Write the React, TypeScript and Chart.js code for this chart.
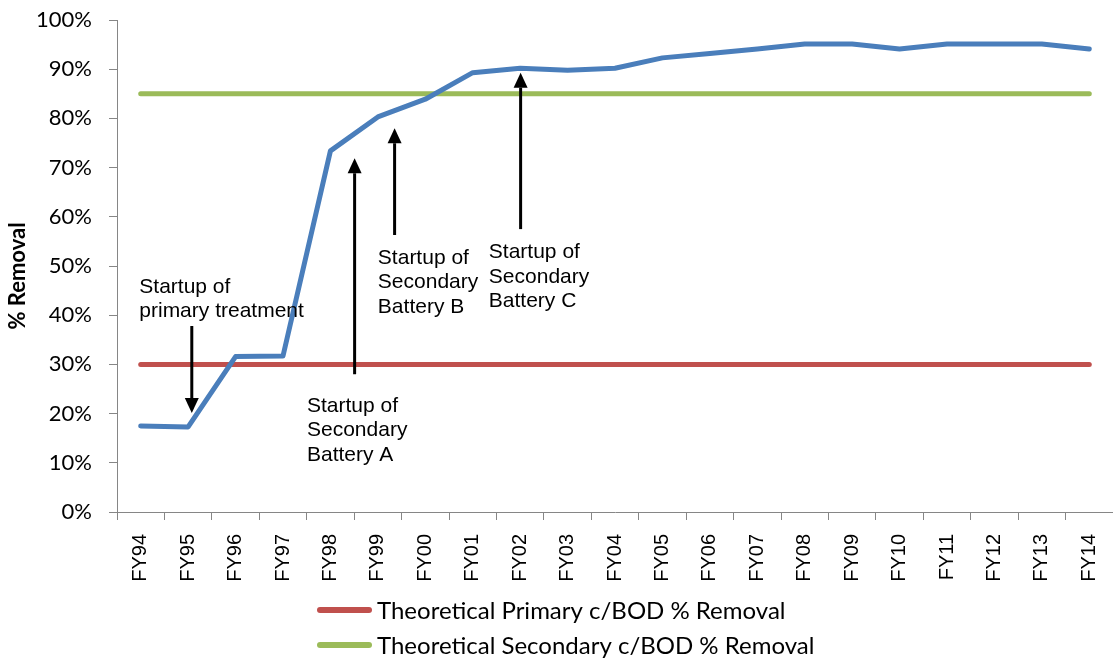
import React, { useEffect, useRef } from "react";
import { Chart, registerables } from "chart.js";

Chart.register(...registerables);

const categories = [
  "FY94", "FY95", "FY96", "FY97", "FY98", "FY99", "FY00", "FY01", "FY02", "FY03", "FY04",
  "FY05", "FY06", "FY07", "FY08", "FY09", "FY10", "FY11", "FY12", "FY13", "FY14",
];
const removalPct = [
  17.5, 17.3, 31.6, 31.7, 73.4, 80.3, 83.9, 89.3, 90.2, 89.8, 90.2,
  92.3, 93.2, 94.1, 95.1, 95.1, 94.1, 95.1, 95.1, 95.1, 94.1,
];
const primaryTarget = [
  30, 30, 30, 30, 30, 30, 30, 30, 30, 30, 30,
  30, 30, 30, 30, 30, 30, 30, 30, 30, 30,
];
const secondaryTarget = [
  85, 85, 85, 85, 85, 85, 85, 85, 85, 85, 85,
  85, 85, 85, 85, 85, 85, 85, 85, 85, 85,
];
const seriesNames = [
  "% Removal",
  "Theoretical Primary c/BOD % Removal",
  "Theoretical Secondary c/BOD % Removal",
];
const yAxisTitle = "% Removal";

// Annotations (category index, % value)
const noteTexts = [
  ["Startup of", "primary treatment"],
  ["Startup of", "Secondary", "Battery A"],
  ["Startup of", "Secondary", "Battery B"],
  ["Startup of", "Secondary", "Battery C"],
];
const noteTextIndex = [-0.03, 3.506, 5.0, 7.34];
const noteTextValue = [44.6, 20.4, 50.5, 51.6];
const arrowIndex = [1.077, 4.51, 5.353, 8.01];
const arrowFrom = [37.8, 28.0, 56.3, 57.5];
const arrowTo = [20.1, 71.9, 78.0, 89.3];

const BLUE = "#4A7EBB";
const RED = "#C0504D";
const GREEN = "#9BBB59";
const AXIS = "#868686";

const overlayPlugin = {
  id: "overlay",
  afterDatasetsDraw(chart: any) {
    const ctx = chart.ctx;
    const xs = chart.scales.x;
    const ys = chart.scales.y;
    ctx.save();
    ctx.strokeStyle = "#000";
    ctx.fillStyle = "#000";
    ctx.lineWidth = 3;
    for (let i = 0; i < arrowIndex.length; i++) {
      const x = xs.getPixelForValue(arrowIndex[i]);
      const y0 = ys.getPixelForValue(arrowFrom[i]);
      const y1 = ys.getPixelForValue(arrowTo[i]);
      const dir = y1 > y0 ? 1 : -1;
      const headLen = 15;
      const headHalf = 7;
      ctx.beginPath();
      ctx.moveTo(x, y0);
      ctx.lineTo(x, y1 - dir * headLen);
      ctx.stroke();
      ctx.beginPath();
      ctx.moveTo(x, y1);
      ctx.lineTo(x - headHalf, y1 - dir * headLen);
      ctx.lineTo(x + headHalf, y1 - dir * headLen);
      ctx.closePath();
      ctx.fill();
    }
    ctx.font = "21px 'Liberation Sans', Arial, sans-serif";
    ctx.textAlign = "left";
    ctx.textBaseline = "alphabetic";
    for (let i = 0; i < noteTexts.length; i++) {
      const x = xs.getPixelForValue(noteTextIndex[i]);
      const y = ys.getPixelForValue(noteTextValue[i]);
      noteTexts[i].forEach((line, k) => ctx.fillText(line, x, y + k * 24.5));
    }
    ctx.restore();
  },
  afterDraw(chart: any) {
    const ctx = chart.ctx;
    const ca = chart.chartArea;
    ctx.save();
    ctx.font = "bold 22px Lato, sans-serif";
    ctx.fillStyle = "#000";
    ctx.textAlign = "center";
    ctx.textBaseline = "middle";
    ctx.translate(18, (ca.top + ca.bottom) / 2 + 10);
    ctx.rotate(-Math.PI / 2);
    ctx.fillText(yAxisTitle, 0, 0);
    ctx.restore();

    ctx.save();
    const left = 317;
    const rows = [610, 645];
    [1, 2].forEach((di, r) => {
      const ds = chart.data.datasets[di];
      const y = rows[r];
      ctx.strokeStyle = ds.borderColor;
      ctx.lineWidth = 6;
      ctx.lineCap = "round";
      ctx.beginPath();
      ctx.moveTo(left + 3, y);
      ctx.lineTo(left + 52, y);
      ctx.stroke();
      ctx.font = "24px Lato, sans-serif";
      ctx.fillStyle = "#000";
      ctx.textAlign = "left";
      ctx.textBaseline = "middle";
      ctx.fillText(ds.label, left + 60, y + 1);
    });
    ctx.restore();
  },
};

export default function App() {
  const ref = useRef<HTMLCanvasElement | null>(null);
  useEffect(() => {
    if (!ref.current) return;
    const lineStyle = {
      pointRadius: 0,
      pointHoverRadius: 0,
      borderWidth: 5,
      tension: 0,
      borderCapStyle: "round" as const,
      borderJoinStyle: "round" as const,
      fill: false,
    };
    const chart = new Chart(ref.current, {
      type: "line",
      data: {
        labels: categories,
        datasets: [
          { label: seriesNames[0], data: removalPct, borderColor: BLUE, backgroundColor: BLUE, ...lineStyle },
          { label: seriesNames[1], data: primaryTarget, borderColor: RED, backgroundColor: RED, ...lineStyle },
          { label: seriesNames[2], data: secondaryTarget, borderColor: GREEN, backgroundColor: GREEN, ...lineStyle },
        ],
      },
      options: {
        responsive: false,
        animation: false,
        events: [],
        layout: { padding: { top: 20, right: 0, bottom: 0, left: 0 } },
        plugins: {
          legend: { display: false },
          tooltip: { enabled: false },
          title: { display: false },
        },
        scales: {
          x: {
            type: "category",
            offset: true,
            grid: {
              display: true,
              drawOnChartArea: false,
              drawTicks: true,
              tickLength: 8,
              color: AXIS,
              offset: true,
            },
            border: { display: true, color: AXIS, width: 1 },
            ticks: {
              autoSkip: false,
              minRotation: 90,
              maxRotation: 90,
              padding: 14,
              color: "#000",
              font: { family: "'Liberation Sans', Arial, sans-serif", size: 20, lineHeight: 0.2 },
            },
            afterFit: (s: any) => {
              s.height = 148;
            },
          },
          y: {
            min: 0,
            max: 100,
            grid: {
              display: true,
              drawOnChartArea: false,
              drawTicks: true,
              tickLength: 8,
              color: AXIS,
            },
            border: { display: true, color: AXIS, width: 1 },
            ticks: {
              stepSize: 10,
              padding: 17,
              color: "#000",
              font: { family: "Lato, sans-serif", size: 22, lineHeight: 0.2 },
              callback: (v: any) => v + "%",
            },
            afterFit: (s: any) => {
              s.width = 117;
            },
          },
        },
      },
      plugins: [overlayPlugin],
    });
    return () => chart.destroy();
  }, []);
  return (
    <canvas
      ref={ref}
      width={1113}
      height={660}
      style={{ position: "absolute", left: 0, top: 0, display: "block", background: "#fff" }}
    />
  );
}
